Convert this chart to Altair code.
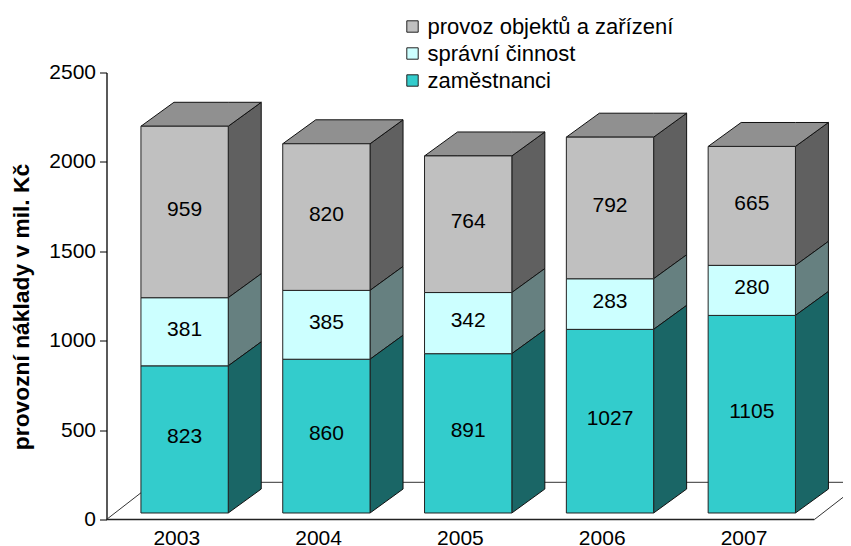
import altair as alt
import pandas as pd

years = [2003, 2004, 2005, 2006, 2007]
series = ["provoz objektů a zařízení", "správní činnost", "zaměstnanci"]
zamestnanci = [823, 860, 891, 1027, 1105]
spravni = [381, 385, 342, 283, 280]
provoz = [959, 820, 764, 792, 665]
front_colors = ["#C0C0C0", "#CCFFFF", "#33CCCC"]
side_colors = ["#606060", "#668080", "#1A6666"]
top_color = "#909090"
FONT = "Liberation Sans"

BAR_SHIFT, BAR_HALF, DEPTH_X = 0.0585, 0.3078, 0.2327
BASE, DEPTH_Y = 36.4, 134.0
X_MIN, X_MAX = 2002.5078, 2007.7017
FLOOR_RIGHT, FLOOR_DX, FLOOR_DY = 2007.5, 0.3385, 208.0

front, side, top, labels = [], [], [], []
stack = list(zip(series, [provoz, spravni, zamestnanci]))[::-1]
for i, y in enumerate(years):
    xl, xr = y + BAR_SHIFT - BAR_HALF, y + BAR_SHIFT + BAR_HALF
    low = BASE
    for s, vals in stack:
        v = vals[i]
        high = low + v
        front.append(dict(series=s, x=xl, xr=xr, y=low, high=high))
        labels.append(dict(x=(xl + xr) / 2, y=(low + high) / 2, text=str(v)))
        key = f"{y}-{s}"
        side.append(dict(id=key, series=s, x=xr, y=low, y2=high))
        side.append(dict(id=key, series=s, x=xr + DEPTH_X, y=low + DEPTH_Y, y2=high + DEPTH_Y))
        low = high
    for px, a, b in [(xl, low, low), (xl + DEPTH_X, low, low + DEPTH_Y),
                     (xr, low, low + DEPTH_Y), (xr + DEPTH_X, low + DEPTH_Y, low + DEPTH_Y)]:
        top.append(dict(id=str(y), x=px, y=a, y2=b))

xs = alt.Scale(domain=[X_MIN, X_MAX], nice=False, zero=False)
ys = alt.Scale(domain=[0, 2500], nice=False, zero=False)
x_axis = alt.Axis(values=years, format="d", title=None, grid=False, domain=False, ticks=False,
                  labelFont=FONT, labelFontSize=21, labelColor="#000000", labelPadding=8)
y_axis = alt.Axis(values=[0, 500, 1000, 1500, 2000, 2500], title="provozní náklady v mil. Kč", grid=False,
                  domainColor="#000000", domainWidth=1.3, tickColor="#000000", tickSize=7, format="d",
                  labelFont=FONT, labelFontSize=21, labelColor="#000000", labelPadding=4,
                  titleFont=FONT, titleFontSize=22.8, titleFontWeight="bold", titleColor="#000000",
                  titleX=-73.5, titleY=234)
X = alt.X("x:Q", scale=xs, axis=x_axis)
Y = alt.Y("y:Q", scale=ys, stack=None, axis=y_axis)

floor_back = pd.DataFrame([
    dict(id="l", x=X_MIN, y=0), dict(id="l", x=X_MIN + FLOOR_DX, y=FLOOR_DY),
    dict(id="b", x=X_MIN + FLOOR_DX, y=FLOOR_DY), dict(id="b", x=X_MAX, y=FLOOR_DY),
    dict(id="r", x=FLOOR_RIGHT, y=0), dict(id="r", x=X_MAX, y=FLOOR_DY * (X_MAX - FLOOR_RIGHT) / FLOOR_DX),
])
floor_l = alt.Chart(floor_back).mark_line(color="#333333", strokeWidth=1).encode(x=X, y=Y, detail="id:N")
floor_f = alt.Chart(pd.DataFrame([dict(x=X_MIN, y=0), dict(x=FLOOR_RIGHT, y=0)])).mark_line(
    color="#222222", strokeWidth=1.5).encode(x=X, y=Y)

layers = [floor_l, floor_f]
side_df = pd.DataFrame(side)
for s, c in zip(series, side_colors):
    layers.append(alt.Chart(side_df[side_df.series == s]).mark_area(
        color=c, stroke="#111111", strokeWidth=1, opacity=1).encode(
        x=X, y=Y, y2="y2:Q", detail="id:N"))
layers.append(alt.Chart(pd.DataFrame(top)).mark_area(
    color=top_color, stroke="#111111", strokeWidth=1).encode(x=X, y=Y, y2="y2:Q", detail="id:N"))

legend = alt.Legend(title=None, orient="none", legendX=295, legendY=-57, symbolType="square",
                    symbolSize=130, symbolStrokeColor="#222222", symbolStrokeWidth=1,
                    labelFont=FONT, labelFontSize=22, labelColor="#000000", labelLimit=400,
                    labelOffset=4, rowPadding=5)
front_chart = alt.Chart(pd.DataFrame(front)).mark_rect(stroke="#222222", strokeWidth=1).encode(
    x=X, x2="xr:Q", y=Y, y2="high:Q",
    fill=alt.Fill("series:N", scale=alt.Scale(domain=series, range=front_colors), legend=legend),
)
layers.append(front_chart)
layers.append(alt.Chart(pd.DataFrame(labels)).mark_text(
    font=FONT, fontSize=21, color="#000000", dy=-2).encode(x=X, y=Y, text="text:N"))

chart = alt.layer(*layers).properties(
    width=736.5, height=447,
    padding={"left": 98.5, "top": 64.5, "right": 0, "bottom": 26.5},
    autosize=alt.AutoSizeParams(type="none"),
).configure_view(stroke=None)

chart.save("out.html", embed_options={"renderer": "svg", "actions": False})
